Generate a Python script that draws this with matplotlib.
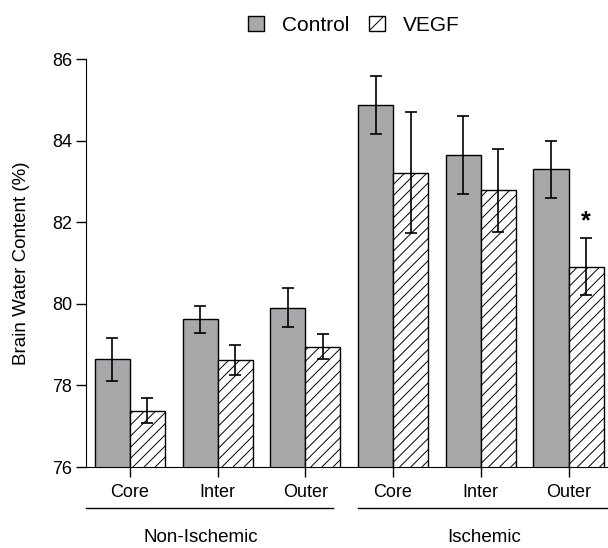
import matplotlib
matplotlib.use("Agg")
import matplotlib.pyplot as plt
import matplotlib.patches as mpatches
import numpy as np

regions = ["Core", "Inter", "Outer", "Core", "Inter", "Outer"]
groups = ["Non-Ischemic", "Ischemic"]
control = [78.64, 79.62, 79.90, 84.87, 83.65, 83.30]
control_err = [0.52, 0.33, 0.48, 0.72, 0.95, 0.70]
vegf = [77.38, 78.62, 78.95, 83.21, 82.78, 80.91]
vegf_err = [0.31, 0.37, 0.31, 1.48, 1.02, 0.70]
significant = [False, False, False, False, False, True]

plt.rcParams['font.family'] = ['Liberation Sans', 'DejaVu Sans']
plt.rcParams['hatch.linewidth'] = 0.7

fig = plt.figure(figsize=(6.08, 5.48), dpi=100)
ax = fig.add_axes([86/608, 1-467/548, 1-86/608, (467-59)/548])

x = np.arange(len(regions))
w = 0.4
grey = "#a8a8aa"
ax.bar(x - w/2, control, w, color=grey, edgecolor="black", linewidth=1.0)
ax.bar(x + w/2, vegf, w, color="white", edgecolor="black", linewidth=1.0, hatch="///")
ax.errorbar(x - w/2, control, yerr=control_err, fmt="none", ecolor="black",
            elinewidth=1.2, capsize=4, capthick=1.2)
ax.errorbar(x + w/2, vegf, yerr=vegf_err, fmt="none", ecolor="black",
            elinewidth=1.2, capsize=4, capthick=1.2)
for i, s in enumerate(significant):
    if s:
        ax.text(x[i] + w/2, vegf[i] + vegf_err[i] + 0.12, "*", ha="center",
                va="bottom", fontsize=18, fontweight="bold")

ax.set_ylim(76, 86)
ax.set_xlim(-0.50, 5.45)
ax.set_yticks([76, 78, 80, 82, 84, 86])
ax.set_xticks(x)
ax.set_xticklabels(regions)
ax.tick_params(axis="both", direction="out", length=7, width=1, labelsize=13, colors="black")
ax.tick_params(axis="x", pad=5)
ax.tick_params(axis="y", pad=3)
ax.spines["top"].set_visible(False)
ax.spines["right"].set_visible(False)
ax.spines["left"].set_bounds(76, 86)
ax.set_ylabel("Brain Water Content (%)", fontsize=13.5, labelpad=16)

tr = ax.get_xaxis_transform()
spans = [(-0.50, 2.31), (2.60, 5.45)]
label_x = [0.81, 4.04]
for (a, b), g, lx in zip(spans, groups, label_x):
    ax.plot([a, b], [-0.10, -0.10], color="black", lw=1.0, transform=tr, clip_on=False)
    ax.text(lx, -0.172, g, transform=tr, ha="center", va="center", fontsize=13.5)

h1 = mpatches.Patch(facecolor=grey, edgecolor="black", linewidth=1.0)
h2 = mpatches.Patch(facecolor="white", edgecolor="black", linewidth=1.0, hatch="/")
fig.legend([h1, h2], ["Control", "VEGF"], loc="center", bbox_to_anchor=(0.582, 0.954),
           ncol=2, frameon=False, fontsize=15, handlelength=0.78, handleheight=0.78,
           columnspacing=0.95, handletextpad=0.85)

fig.savefig("out.png", dpi=100)
